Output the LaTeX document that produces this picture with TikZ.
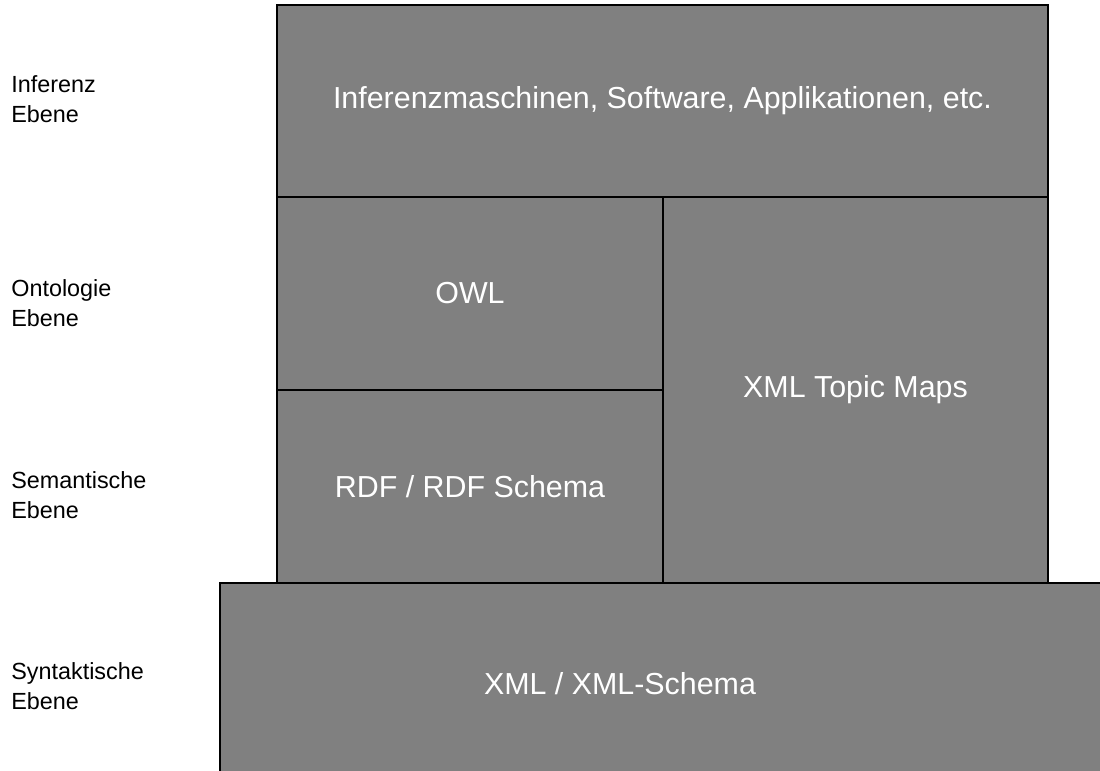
\documentclass[tikz,border=0pt]{standalone}
\usepackage{fontspec}
\setmainfont{Liberation Sans}
\usetikzlibrary{positioning}
\tikzset{
    layer/.style={draw, line width=0.9pt, fill=gray, inner sep=0pt, outer sep=0pt},
    caption/.style={text=white, inner sep=0pt, font=\fontsize{17.3}{20}\selectfont},
    level/.style={align=left, anchor=west, inner sep=0pt, font=\fontsize{13.3}{17.1}\selectfont}
}
\begin{document}
\begin{tikzpicture}[x=0.02cm, y=-0.02cm]
    \useasboundingbox (0, 0) rectangle (1100, 771);
    \clip (0, 0) rectangle (1100, 771);

    % layers
    \node[layer, minimum width=18.2cm, minimum height=4.04cm] (syntax) at (675, 684) {};
    \node[layer, minimum width=15.42cm, minimum height=3.84cm] (infer) at (662.5, 101) {};
    \node[layer, minimum width=7.72cm, minimum height=3.86cm] (owl) at (470, 293.5) {};
    \node[layer, minimum width=7.72cm, minimum height=3.86cm] (rdf) at (470, 486.5) {};
    \node[layer, minimum width=7.7cm, minimum height=7.72cm] (xtm) at (855.5, 390) {};

    % captions
    \node[caption] at (infer) {Inferenzmaschinen, Software, Applikationen, etc.};
    \node[caption] at (owl) {OWL};
    \node[caption] at (rdf) {RDF / RDF Schema};
    \node[caption] at (xtm) {XML Topic Maps};
    \node[caption] (xml) at (620, 684) {XML / XML-Schema};

    % levels
    \node[level] (l1) at (11, 99) {Inferenz\\Ebene};
    \node[level] (l2) at (11, 303) {Ontologie\\Ebene};
    \node[level] (l3) at (11, 495) {Semantische\\Ebene};
    \node[level] (l4) at (11, 686) {Syntaktische\\Ebene};
\end{tikzpicture}
\end{document}
